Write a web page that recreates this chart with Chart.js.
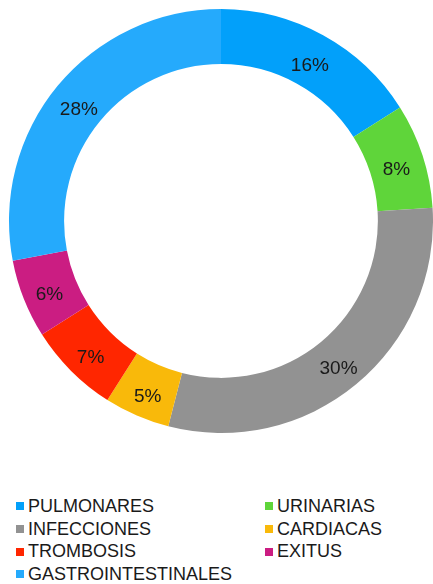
<!DOCTYPE html>
<html>
<head>
<meta charset="utf-8">
<script src="https://cdn.jsdelivr.net/npm/chart.js@4"></script>
<style>
    body { margin: 0; background: #fff; font-family: "Liberation Sans", Arial, sans-serif; }
    #wrap { position: relative; width: 433px; height: 584px; }
    #chartBox { position: absolute; left: 0; top: 0; width: 433px; height: 450px; }
    #legend { position: absolute; left: 16px; top: 495px; display: grid; grid-template-columns: 249px 160px; }
    .item { display: flex; align-items: center; height: 22.7px; font-size: 18px; color: #1a1a1a; white-space: nowrap; }
    .box { width: 8px; height: 8px; margin-right: 4px; flex: none; }
</style>
</head>
<body>
<div id="wrap">
    <div id="chartBox"><canvas id="donutChart"></canvas></div>
    <div id="legend"></div>
</div>
<script>
// Données
const categories = ['PULMONARES', 'URINARIAS', 'INFECCIONES', 'CARDIACAS', 'TROMBOSIS', 'EXITUS', 'GASTROINTESTINALES'];
const percentages = [16, 8, 30, 5, 7, 6, 28];
const colors = ['#02A0FA', '#5FD53A', '#929292', '#F9B90A', '#FF2600', '#CB1D82', '#25AAFC'];

// Étiquettes de pourcentage au milieu de l'anneau
const sliceLabels = {
    id: 'sliceLabels',
    afterDatasetsDraw(chart) {
        const ctx = chart.ctx;
        const meta = chart.getDatasetMeta(0);
        ctx.save();
        ctx.font = '19px "Liberation Sans", Arial, sans-serif';
        ctx.fillStyle = '#1a1a1a';
        ctx.textAlign = 'center';
        ctx.textBaseline = 'middle';
        meta.data.forEach(function(arc, i) {
            const p = arc.getProps(['x', 'y', 'startAngle', 'endAngle', 'innerRadius', 'outerRadius'], true);
            const mid = (p.startAngle + p.endAngle) / 2;
            const r = (p.innerRadius + p.outerRadius) / 2;
            ctx.fillText(percentages[i] + '%', p.x + Math.cos(mid) * r, p.y + Math.sin(mid) * r + 6);
        });
        ctx.restore();
    }
};

const chart = new Chart(document.getElementById('donutChart').getContext('2d'), {
    type: 'doughnut',
    data: {
        labels: categories,
        datasets: [{
            data: percentages,
            backgroundColor: colors,
            borderWidth: 0
        }]
    },
    options: {
        responsive: true,
        maintainAspectRatio: false,
        animation: false,
        cutout: '74%',
        layout: { padding: { top: 9, left: 9, right: 0, bottom: 17 } },
        plugins: {
            legend: { display: false },
            tooltip: { enabled: false }
        },
        events: []
    },
    plugins: [sliceLabels]
});

// Légende en deux colonnes
const legend = document.getElementById('legend');
categories.forEach(function(name, i) {
    const item = document.createElement('div');
    item.className = 'item';
    const box = document.createElement('span');
    box.className = 'box';
    box.style.background = colors[i];
    item.appendChild(box);
    item.appendChild(document.createTextNode(name));
    legend.appendChild(item);
});
</script>
</body>
</html>
